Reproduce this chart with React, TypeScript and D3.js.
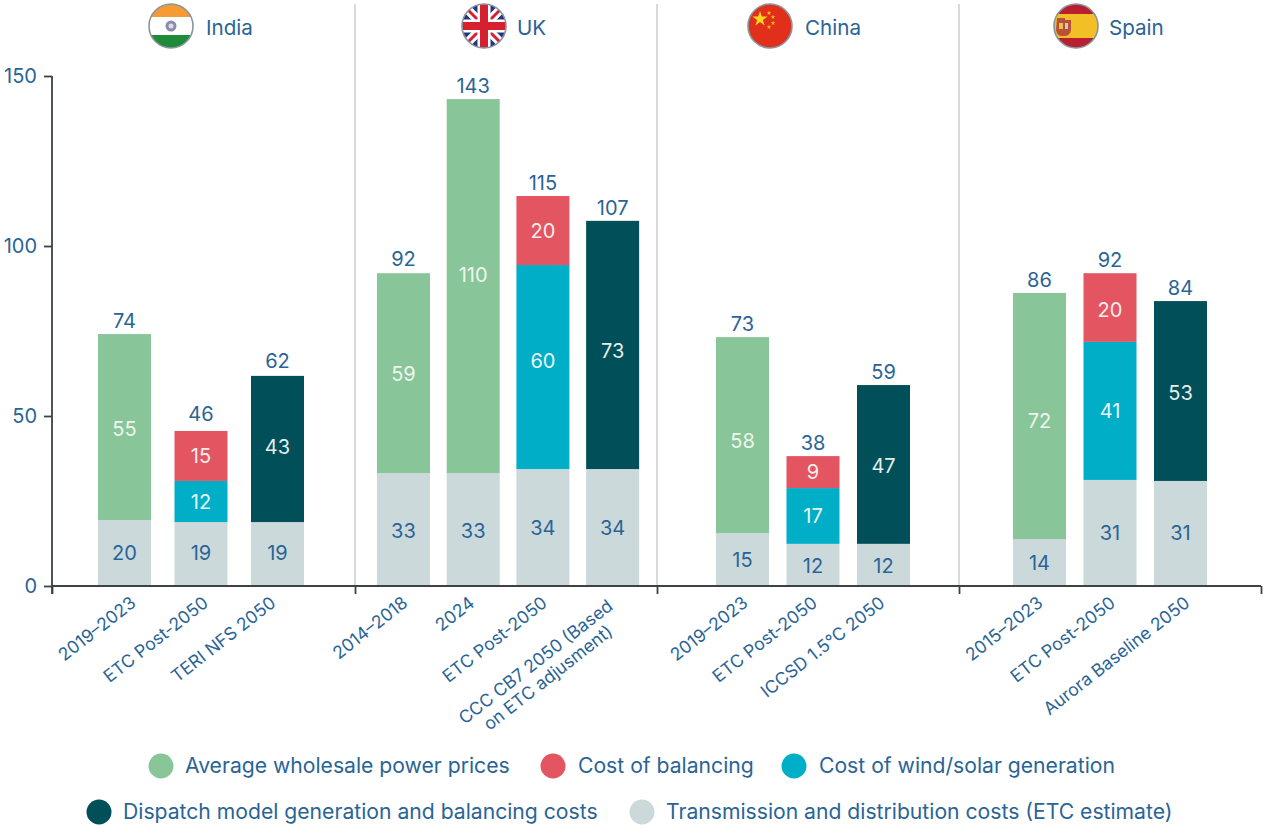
import React, { useEffect, useRef } from "react";
import * as d3 from "d3";

const countries = ["India", "UK", "China", "Spain"];
const categories = [
  ["2019–2023", "ETC Post-2050", "TERI NFS 2050"],
  ["2014–2018", "2024", "ETC Post-2050", "CCC CB7 2050 (Based|on ETC adjusment)"],
  ["2019–2023", "ETC Post-2050", "ICCSD 1.5°C 2050"],
  ["2015–2023", "ETC Post-2050", "Aurora Baseline 2050"],
];
// values per country, per bar
const transmission = [[19.4, 18.8, 18.8], [33.2, 33.2, 34.4, 34.4], [15.6, 12.4, 12.4], [13.8, 31.2, 30.9]];
const wholesale = [[54.7, 0, 0], [58.8, 110, 0, 0], [57.6, 0, 0], [72.4, 0, 0]];
const windSolar = [[0, 12.1, 0], [0, 0, 60, 0], [0, 16.4, 0], [0, 40.6, 0]];
const balancing = [[0, 14.7, 0], [0, 0, 20.3, 0], [0, 9.4, 0], [0, 20.2, 0]];
const dispatch = [[0, 0, 43], [0, 0, 0, 73], [0, 0, 46.7], [0, 0, 52.9]];
const totals = [[74, 46, 62], [92, 143, 115, 107], [73, 38, 59], [86, 92, 84]];
const transmissionLabels = [[20, 19, 19], [33, 33, 34, 34], [15, 12, 12], [14, 31, 31]];
const wholesaleLabels = [[55, 0, 0], [59, 110, 0, 0], [58, 0, 0], [72, 0, 0]];
const windSolarLabels = [[0, 12, 0], [0, 0, 60, 0], [0, 17, 0], [0, 41, 0]];
const balancingLabels = [[0, 15, 0], [0, 0, 20, 0], [0, 9, 0], [0, 20, 0]];
const dispatchLabels = [[0, 0, 43], [0, 0, 0, 73], [0, 0, 47], [0, 0, 53]];
const yTicks = [0, 50, 100, 150];

// layout only: hand placement of labels, as pixels
const nudgeTrans = [[0, -1, -1], [1, 1, 0, 0], [1, 1, 1], [0, 0, 0]];
const nudgeWhole = [[2, 0, 0], [1, -11, 0, 0], [6, 0, 0], [5, 0, 0]];
const nudgeWind = [[0, 0, 0], [0, 0, -6, 0], [0, 0, 0], [0, 0, 0]];
const nudgeBal = [[0, 0, 0], [0, 0, 0, 0], [0, 0, 0], [0, 2, 0]];
const nudgeDisp = [[0, 0, -2], [0, 0, 0, 6], [0, 0, 2], [0, 0, 2]];
const nudgeTotal = [[0, -4, -2], [-1, 0, 0, 0], [0, 0, 0], [0, 0, 0]];
const nudgeCatX = [[1, -3, -12], [-6, -9, -6, -6], [-5, -6, -9], [-7, -5, -1]];

const C = {
  wholesale: "#88c598",
  balancing: "#e25561",
  wind: "#00aec7",
  dispatch: "#014f58",
  trans: "#cbd9db",
  text: "#2a6496",
  axis: "#3c4245",
  sep: "#cfd2d3",
};
const series = [
  { name: "Transmission and distribution costs (ETC estimate)", v: transmission, l: transmissionLabels, n: nudgeTrans, c: C.trans, t: C.text },
  { name: "Average wholesale power prices", v: wholesale, l: wholesaleLabels, n: nudgeWhole, c: C.wholesale, t: "#eef6ee" },
  { name: "Cost of wind/solar generation", v: windSolar, l: windSolarLabels, n: nudgeWind, c: C.wind, t: "#eaf6f8" },
  { name: "Dispatch model generation and balancing costs", v: dispatch, l: dispatchLabels, n: nudgeDisp, c: C.dispatch, t: "#e4eeee" },
  { name: "Cost of balancing", v: balancing, l: balancingLabels, n: nudgeBal, c: C.balancing, t: "#fbeeee" },
];
const legendRows = [
  [{ i: 1, cx: 161, tx: 185 }, { i: 4, cx: 553, tx: 578 }, { i: 2, cx: 794, tx: 819 }],
  [{ i: 3, cx: 99, tx: 123 }, { i: 0, cx: 642, tx: 666 }],
];
const FONT = "Inter, 'Noto Sans', sans-serif";
const bandRanges: [number, number][] = [[86.25, 315.75], [368.6, 647.5], [707.25, 918.75], [1004.25, 1215.75]];
const barW = 53;
const seps = [52, 355, 657, 959, 1261];
const flagX = [171, 484, 770, 1076];
const labelX = [206, 517, 805, 1109];

function Flag({ id, cx, name }: { id: string; cx: number; name: string }) {
  const r = 22;
  const cy = 26;
  const L = cx - r, T = cy - r, S = r * 2;
  let body: React.ReactNode = null;
  if (name === "India") {
    body = (
      <>
        <rect x={L} y={T} width={S} height={S} fill="#fff" />
        <rect x={L} y={T} width={S} height={13} fill="#f59a34" />
        <rect x={L} y={T + 31} width={S} height={13} fill="#1f8a3a" />
        <circle cx={cx} cy={cy} r={5.5} fill="#8a8cab" />
        <circle cx={cx} cy={cy} r={2.5} fill="#dcdce8" />
      </>
    );
  } else if (name === "UK") {
    body = (
      <>
        <rect x={L} y={T} width={S} height={S} fill="#26377c" />
        <path d={`M${L} ${T}L${L + S} ${T + S}M${L + S} ${T}L${L} ${T + S}`} stroke="#fff" strokeWidth={9} />
        <path d={`M${L} ${T}L${L + S} ${T + S}M${L + S} ${T}L${L} ${T + S}`} stroke="#d5202f" strokeWidth={3} />
        <path d={`M${cx} ${T}V${T + S}M${L} ${cy}H${L + S}`} stroke="#fff" strokeWidth={13} />
        <path d={`M${cx} ${T}V${T + S}M${L} ${cy}H${L + S}`} stroke="#d5202f" strokeWidth={8} />
      </>
    );
  } else if (name === "China") {
    const star = d3.symbol().type(d3.symbolStar);
    body = (
      <>
        <rect x={L} y={T} width={S} height={S} fill="#e0301b" />
        <path d={star.size(70)() as string} transform={`translate(${cx - 10},${cy - 7})`} fill="#fcd720" />
        {[[-1, -13], [3, -9], [3, -3], [-1, 1]].map(([dx, dy], i) => (
          <path key={i} d={star.size(7)() as string} transform={`translate(${cx + dx},${cy + dy})`} fill="#f9b81e" />
        ))}
      </>
    );
  } else {
    body = (
      <>
        <rect x={L} y={T} width={S} height={S} fill="#b81f30" />
        <rect x={L} y={T + 10} width={S} height={24} fill="#f2bf26" />
        <path d={`M${cx - 19} ${cy - 8}h8v2h6v10q-1 6 -7 6h-2q-5 0 -6 -6z`} fill="#b8503a" />
        <rect x={cx - 17} y={cy - 3} width={4} height={6} fill="#e8c14a" />
        <rect x={cx - 11} y={cy - 3} width={3} height={6} fill="#c9c9c0" />
      </>
    );
  }
  return (
    <g>
      <clipPath id={id}><circle cx={cx} cy={cy} r={r} /></clipPath>
      <g clipPath={`url(#${id})`}>{body}</g>
      <circle cx={cx} cy={cy} r={r} fill="none" stroke="#8a969e" strokeWidth={1.6} />
    </g>
  );
}

export default function App() {
  const ref = useRef<SVGGElement>(null);
  const y = d3.scaleLinear().domain([0, 150]).range([586, 76]);

  useEffect(() => {
    const root = d3.select(ref.current!);
    root.selectAll("*").remove();

    // separators
    root.selectAll("line.sep").data(seps.slice(1, 4)).join("line").attr("class", "sep")
      .attr("x1", d => d).attr("x2", d => d).attr("y1", 4).attr("y2", 586)
      .attr("stroke", C.sep).attr("stroke-width", 1.6);

    countries.forEach((_, gi) => {
      const cats = categories[gi];
      const idx = cats.map((_, i) => i);
      const [a, b] = bandRanges[gi];
      const step = (b - a) / cats.length;
      const x = d3.scaleBand<number>().domain(idx).range([a, b]).paddingInner(1 - barW / step).paddingOuter((1 - barW / step) / 2);
      idx.forEach(i => {
        const g = root.append("g");
        let acc = 0;
        series.forEach(s => {
          const v = s.v[gi][i];
          if (!v) return;
          const y0 = y(acc), y1 = y(acc + v);
          g.append("rect").attr("x", x(i)!).attr("y", y1).attr("width", x.bandwidth()).attr("height", y0 - y1).attr("fill", s.c);
          g.append("text").attr("x", x(i)! + x.bandwidth() / 2).attr("y", (y0 + y1) / 2 + 7 + s.n[gi][i])
            .attr("text-anchor", "middle").attr("font-size", 20).attr("font-family", FONT).attr("fill", s.t).text(s.l[gi][i]);
          acc += v;
        });
        g.append("text").attr("x", x(i)! + x.bandwidth() / 2).attr("y", y(acc) - 6 + nudgeTotal[gi][i])
          .attr("text-anchor", "middle").attr("font-size", 20).attr("font-family", FONT).attr("fill", C.text).text(totals[gi][i]);
        // rotated labels
        const lines = cats[i].split("|");
        const cx = x(i)! + x.bandwidth() / 2 + nudgeCatX[gi][i];
        const t = root.append("text").attr("transform", `translate(${cx + 9},${602}) rotate(-38)`)
          .attr("font-size", 17.6).attr("font-family", FONT).attr("fill", C.text);
        lines.forEach((ln, k) => {
          t.append("tspan").attr("x", 0).attr("dy", k === 0 ? 4 : 20)
            .attr("text-anchor", lines.length > 1 ? "middle" : "end")
            .attr("dx", lines.length > 1 ? -100 : 0).text(ln);
        });
      });
    });

    // x axis
    const xa = d3.scaleLinear().domain([52, 1261]).range([52, 1261]);
    const xAxis = d3.axisBottom(xa).tickValues(seps).tickSize(8).tickFormat(() => "") as any;
    const gx = root.append("g").attr("transform", "translate(0,586)").call(xAxis);
    gx.selectAll("line").attr("stroke", C.axis).attr("stroke-width", 1.8);
    gx.select(".domain").attr("stroke", C.axis).attr("stroke-width", 1.8).attr("d", "M52,0H1261");

    // y axis
    const yAxis = d3.axisLeft(y).tickValues(yTicks).tickSize(8).tickPadding(7);
    const gy = root.append("g").attr("transform", "translate(52,0)").call(yAxis as any);
    gy.selectAll("line").attr("stroke", C.axis).attr("stroke-width", 1.8);
    gy.select(".domain").attr("stroke", C.axis).attr("stroke-width", 1.8).attr("d", "M0,76V594");
    gy.selectAll("text").attr("font-size", 20).attr("font-family", FONT).attr("fill", C.text).attr("dy", "0.32em");
  }, []);

  return (
    <svg width={1263} height={828} style={{ position: "absolute", left: 0, top: 0, background: "#fff" }}>
      <g ref={ref} />
      {countries.map((c, i) => (
        <g key={c}>
          <Flag id={`flag${i}`} cx={flagX[i]} name={c} />
          <text x={labelX[i]} y={35} fontSize={20.6} fontFamily={FONT} fill={C.text}>{c}</text>
        </g>
      ))}
      {legendRows.map((row, ri) => row.map(e => (
        <g key={e.i}>
          <circle cx={e.cx} cy={[766, 812][ri]} r={12.5} fill={series[e.i].c} />
          <text x={e.tx} y={[773, 819][ri]} fontSize={21.15} fontFamily={FONT} fill={C.text}>{series[e.i].name}</text>
        </g>
      )))}
    </svg>
  );
}
